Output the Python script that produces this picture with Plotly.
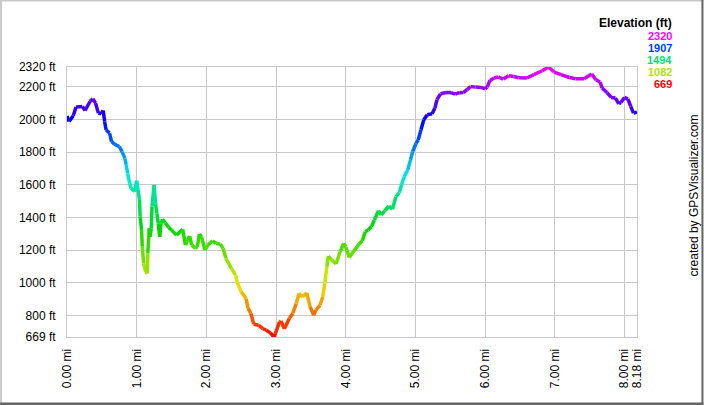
import colorsys
import plotly.graph_objects as go

# perfil de elevacao (distancia em milhas, elevacao em pes)
distancia = [0.00, 0.03, 0.09, 0.13, 0.22, 0.26, 0.33, 0.37, 0.41, 0.45, 0.49, 0.52, 0.54, 0.56,
             0.61, 0.64, 0.68, 0.75, 0.79, 0.83, 0.85, 0.87, 0.90, 0.92, 0.97, 1.00, 1.02, 1.04,
             1.05, 1.07, 1.08, 1.10, 1.13, 1.15, 1.16, 1.18, 1.19, 1.21, 1.22, 1.25, 1.27, 1.29,
             1.31, 1.33, 1.35, 1.37, 1.41, 1.46, 1.50, 1.57, 1.66, 1.70, 1.73, 1.76, 1.79, 1.84,
             1.87, 1.90, 1.93, 1.98, 2.02, 2.09, 2.14, 2.20, 2.24, 2.28, 2.36, 2.42, 2.44, 2.50,
             2.57, 2.60, 2.64, 2.68, 2.75, 2.81, 2.86, 2.92, 2.97, 2.99, 3.05, 3.07, 3.12, 3.19,
             3.24, 3.29, 3.33, 3.38, 3.44, 3.49, 3.54, 3.57, 3.63, 3.67, 3.70, 3.73, 3.75, 3.79,
             3.86, 3.92, 3.97, 4.00, 4.05, 4.12, 4.19, 4.24, 4.28, 4.32, 4.37, 4.41, 4.47, 4.51,
             4.56, 4.62, 4.67, 4.72, 4.77, 4.80, 4.84, 4.89, 4.93, 4.96, 5.01, 5.04, 5.08, 5.12,
             5.17, 5.24, 5.28, 5.31, 5.36, 5.44, 5.51, 5.57, 5.63, 5.69, 5.74, 5.79, 5.86, 5.94,
             6.00, 6.03, 6.07, 6.13, 6.19, 6.26, 6.34, 6.41, 6.48, 6.60, 6.70, 6.82, 6.91, 6.99,
             7.09, 7.21, 7.30, 7.42, 7.53, 7.59, 7.65, 7.68, 7.75, 7.81, 7.87, 7.92, 7.95, 8.00,
             8.05, 8.09, 8.13, 8.18]
elevacao = [2020, 1987, 2022, 2075, 2079, 2054, 2109, 2126, 2099, 2038, 2034, 2054, 1987, 1936,
            1916, 1864, 1848, 1834, 1803, 1762, 1721, 1670, 1609, 1579, 1558, 1625, 1568, 1507,
            1404, 1323, 1221, 1119, 1067, 1057, 1180, 1333, 1282, 1333, 1466, 1599, 1487, 1425,
            1364, 1282, 1364, 1389, 1368, 1339, 1323, 1292, 1327, 1231, 1262, 1286, 1231, 1211,
            1221, 1298, 1282, 1200, 1231, 1257, 1241, 1237, 1211, 1150, 1088, 1047, 1006, 945,
            904, 843, 813, 747, 741, 720, 710, 694, 669, 690, 761, 767, 720, 782,
            813, 874, 935, 914, 939, 853, 802, 833, 863, 914, 996, 1098, 1164, 1143,
            1115, 1190, 1241, 1221, 1156, 1196, 1237, 1257, 1313, 1323, 1343, 1384, 1441, 1415,
            1441, 1470, 1450, 1527, 1552, 1599, 1650, 1691, 1752, 1803, 1854, 1874, 1936, 1997,
            2028, 2034, 2069, 2120, 2156, 2164, 2164, 2154, 2163, 2164, 2181, 2201, 2197, 2195,
            2187, 2197, 2238, 2253, 2259, 2246, 2267, 2262, 2254, 2253, 2273, 2297, 2320, 2289,
            2273, 2256, 2248, 2248, 2277, 2242, 2228, 2191, 2164, 2134, 2130, 2095, 2103, 2134,
            2124, 2079, 2038, 2044]

ticks_x = [0, 1, 2, 3, 4, 5, 6, 7, 8, 8.18]
ticks_y = [669, 800, 1000, 1200, 1400, 1600, 1800, 2000, 2200, 2320]
legenda = [2320, 1907, 1494, 1082, 669]

E_MIN, E_MAX = 669, 2320
W, H = 704, 405
ML, MR, MT, MB = 67, 66.5, 67.3, 68.3
PW, PH = W - ML - MR, H - MT - MB


def cor(e):
    t = min(max((e - E_MIN) / (E_MAX - E_MIN), 0), 1)
    h = 300 * t / 360
    v = 1 - 0.15 * (1 - abs(h * 360 - 120) / 120) if abs(h * 360 - 120) < 120 else 1
    r, g, b = colorsys.hsv_to_rgb(h, 1, v)
    return 'rgb(%d,%d,%d)' % (r * 255, g * 255, b * 255)


def px_x(p):
    return (p - ML) / PW


def px_y(p):
    return 1 - (p - MT) / PH


fig = go.Figure()

for i in range(len(distancia) - 1):
    media = (elevacao[i] + elevacao[i + 1]) / 2
    fig.add_trace(go.Scatter(
        x=distancia[i:i + 2], y=elevacao[i:i + 2],
        mode='lines', line=dict(color=cor(media), width=3.5),
        hoverinfo='skip', showlegend=False
    ))

fig.update_xaxes(
    range=[0, 8.18], tickvals=ticks_x,
    ticktext=['%.2f mi' % v for v in ticks_x],
    tickangle=-90, showgrid=True, gridcolor='#c8c8c8', gridwidth=1,
    zeroline=False, showline=True, linecolor='#c8c8c8', mirror=True,
    ticklabelstandoff=6, tickfont=dict(size=12, color='black'), automargin=False
)
fig.update_yaxes(
    range=[E_MIN, E_MAX], tickvals=ticks_y,
    ticktext=['%d ft' % v for v in ticks_y],
    showgrid=True, gridcolor='#c8c8c8', gridwidth=1,
    zeroline=False, showline=True, linecolor='#c8c8c8', mirror=True,
    ticklabelstandoff=8, tickfont=dict(size=12, color='black'), automargin=False
)

# legenda de cores
anot = [dict(x=px_x(675), y=px_y(23), xref='paper', yref='paper', xanchor='right',
             yanchor='middle', showarrow=False, text='<b>Elevation (ft)</b>',
             font=dict(size=12, color='black'))]
for k, v in enumerate(legenda):
    anot.append(dict(x=px_x(675), y=px_y(36.7 + k * 11.8), xref='paper', yref='paper',
                     xanchor='right', yanchor='middle', showarrow=False,
                     text='<b>%d</b>' % v, font=dict(size=11, color=cor(v))))
anot.append(dict(x=px_x(695), y=px_y(195), xref='paper', yref='paper', xanchor='center',
                 yanchor='middle', showarrow=False, textangle=-90,
                 text='created by GPSVisualizer.com', font=dict(size=12, color='black')))

# moldura
moldura = [
    dict(type='line', xref='paper', yref='paper', x0=px_x(0), x1=px_x(W), y0=px_y(1), y1=px_y(1),
         line=dict(color='#c8c8c8', width=2)),
    dict(type='line', xref='paper', yref='paper', x0=px_x(1), x1=px_x(1), y0=px_y(0), y1=px_y(H),
         line=dict(color='#c8c8c8', width=2)),
    dict(type='line', xref='paper', yref='paper', x0=px_x(0), x1=px_x(W), y0=px_y(H - 1.5),
         y1=px_y(H - 1.5), line=dict(color='#646464', width=3)),
    dict(type='line', xref='paper', yref='paper', x0=px_x(W - 1), x1=px_x(W - 1), y0=px_y(0),
         y1=px_y(H), line=dict(color='#646464', width=2)),
]

fig.update_layout(
    width=W, height=H,
    margin=dict(l=ML, r=MR, t=MT, b=MB),
    paper_bgcolor='white', plot_bgcolor='white',
    font=dict(family='Liberation Sans, Arial, sans-serif', size=12, color='black'),
    annotations=anot, shapes=moldura
)

fig.write_html("out.html", config={'displayModeBar': False},
               post_script="document.body.style.margin='0';")
